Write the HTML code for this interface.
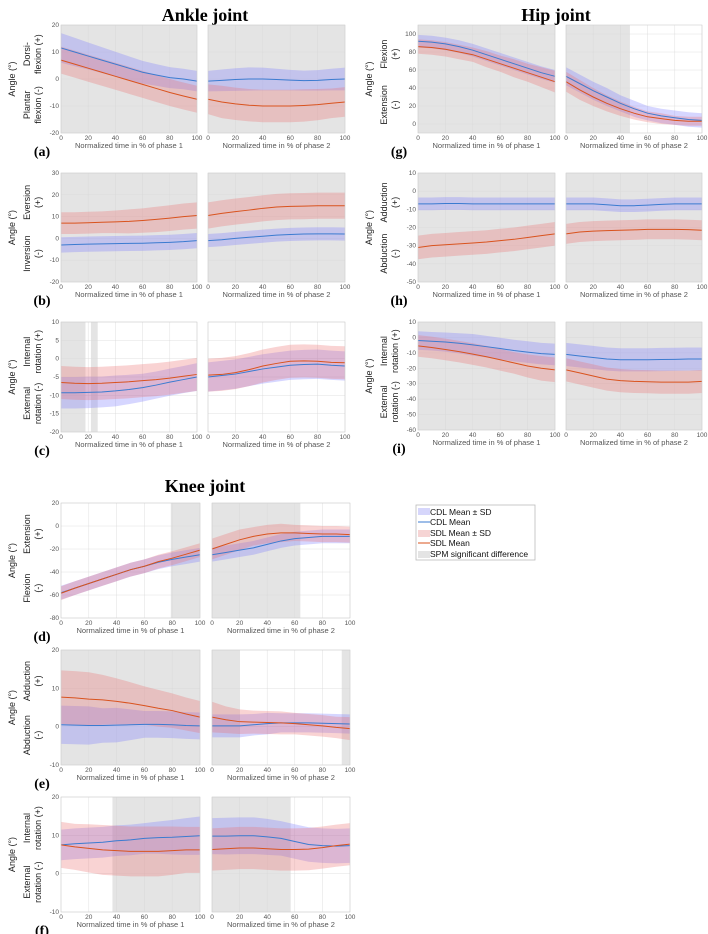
<!DOCTYPE html>
<html><head><meta charset="utf-8">
<style>
html,body{margin:0;padding:0;background:#fff;}
svg{display:block;font-family:"Liberation Sans",sans-serif;}
.t{font-family:"Liberation Serif",serif;font-weight:bold;}
</style></head>
<body>
<svg id="fig" width="708" height="934" viewBox="0 0 708 934">
<text class="t" x="205" y="21" font-size="18" text-anchor="middle">Ankle joint</text>
<text class="t" x="556" y="21" font-size="18" text-anchor="middle">Hip joint</text>
<text class="t" x="205" y="492" font-size="18" text-anchor="middle">Knee joint</text>
<g>
<rect x="416" y="505" width="119" height="55" fill="#fff" stroke="#bbb" stroke-width="0.8"/>
<rect x="418" y="508" width="12" height="7" fill="#d6d6fb"/>
<text x="430" y="515" font-size="8.5" fill="#111">CDL Mean ± SD</text>
<line x1="418" y1="522" x2="430" y2="522" stroke="#3b7bd0" stroke-width="1"/>
<text x="430" y="525" font-size="8.5" fill="#111">CDL Mean</text>
<rect x="418" y="530" width="12" height="7" fill="#f6d4d4"/>
<text x="430" y="536" font-size="8.5" fill="#111">SDL Mean ± SD</text>
<line x1="418" y1="543" x2="430" y2="543" stroke="#d9531e" stroke-width="1"/>
<text x="430" y="546" font-size="8.5" fill="#111">SDL Mean</text>
<rect x="418" y="551" width="12" height="7" fill="#e4e4e4"/>
<text x="430" y="557" font-size="8.5" fill="#111">SPM significant difference</text>
</g>
</svg>
<script>
// x samples (% of phase)
const xs = [0,10,20,30,40,50,60,70,80,90,100];
// ---- Ankle (a) ----
const aL_cdl = [11.5,10,8.5,7,5.5,4,2.5,1.5,0.5,0,-0.8];
const aL_cdlSd = [5.5,5.3,5,4.8,4.6,4.4,4.2,4,3.9,3.8,3.8];
const aL_sdl = [7,5.5,4,2.5,1,-0.5,-2,-3.5,-5,-6.3,-7.5];
const aL_sdlSd = [5,5,5,5,5,5,5,5,5,5,5];
const aR_cdl = [-0.8,-0.5,-0.2,0,0,-0.2,-0.4,-0.6,-0.5,-0.2,0];
const aR_cdlSd = [3.8,4,4.2,4.3,4.2,4,3.8,3.7,3.8,4,4.2];
const aR_sdl = [-7.5,-8.5,-9.2,-9.7,-10,-10,-10,-9.8,-9.5,-9,-8.5];
const aR_sdlSd = [5.5,6,6,6,6,6,6,6,5.8,5.5,5.5];
// ---- Ankle (b) ----
const bL_cdl = [-3,-2.8,-2.6,-2.5,-2.4,-2.3,-2.2,-2,-1.8,-1.5,-1];
const bL_cdlSd = [3.5,3.5,3.5,3.5,3.5,3.5,3.5,3.5,3.5,3.5,3.5];
const bL_sdl = [7,7,7.2,7.4,7.6,7.8,8.2,8.7,9.3,10,10.5];
const bL_sdlSd = [5,5,5,5,5.2,5.5,5.6,5.8,5.9,6,6];
const bR_cdl = [-1,-0.6,0,0.5,1,1.5,1.8,2,2.1,2.1,2];
const bR_cdlSd = [3,3,3,3,3,3,3,3,3,3,3];
const bR_sdl = [10.5,11.5,12.3,13,13.8,14.4,14.7,14.8,15,15,15];
const bR_sdlSd = [6,6,6,6,6,6,6,6,6,6,6];
// ---- Ankle (c) ----
const cL_cdl = [-9.3,-9.3,-9.2,-9.1,-8.8,-8.4,-7.9,-7.2,-6.4,-5.7,-5];
const cL_cdlSd = [4.3,4.3,4.3,4.2,4.2,4,3.8,3.7,3.7,3.7,3.8];
const cL_sdl = [-6.5,-6.7,-6.8,-6.7,-6.5,-6.3,-6,-5.7,-5.3,-4.8,-4.3];
const cL_sdlSd = [4.5,4.5,4.5,4.5,4.5,4.5,4.5,4.5,4.5,4.5,4.5];
const cR_cdl = [-5,-4.6,-4.2,-3.5,-2.8,-2.3,-1.8,-1.6,-1.5,-1.8,-2];
const cR_cdlSd = [4,4,4,4,4,4,4,4,4,4,4];
const cR_sdl = [-4.5,-4.3,-3.8,-3,-2,-1.3,-0.7,-0.6,-0.7,-1,-1.1];
const cR_sdlSd = [4.5,4.5,4.5,4.5,4.5,4.5,4.5,4.5,4.5,4.5,4.5];
// ---- Hip (g) ----
const gL_cdl = [92,91,89,86,82,77,72,67,62,57,53];
const gL_cdlSd = [7,7,7,7,7,7,7,7,7,7,7];
const gL_sdl = [86,85,83,80,77,72,67,62,57,52,47];
const gL_sdlSd = [8,8,8,8,8,9,9,10,10,11,12];
const gR_cdl = [53,45,37,30,23,17,12,9,7,5,4];
const gR_cdlSd = [10,10,10,10,9,9,8,8,8,8,8];
const gR_sdl = [47,38,30,23,17,12,8,6,4,3,3];
const gR_sdlSd = [11,11,10,9,8,7,6,6,5,5,5];
// ---- Hip (h) ----
const hL_cdl = [-7,-7,-6.8,-6.8,-7,-7,-7,-7,-7,-7,-7];
const hL_cdlSd = [3.5,3.5,3.5,3.5,3.5,3.5,3.5,3.5,3.5,3.5,3.5];
const hL_sdl = [-31,-30,-29.5,-29,-28.5,-28,-27.2,-26.5,-25.5,-24.5,-23.5];
const hL_sdlSd = [6.5,6.5,6.5,6.5,6.5,6.5,6.5,6.5,6.5,6.5,6.5];
const hR_cdl = [-7,-7,-7,-7.5,-8,-8,-7.7,-7.3,-7,-7,-7];
const hR_cdlSd = [3.5,3.5,3.5,3.5,3.5,3.5,3.5,3.5,3.5,3.5,3.5];
const hR_sdl = [-23.5,-22.5,-22,-21.7,-21.5,-21.3,-21,-21,-21,-21.2,-21.5];
const hR_sdlSd = [5.5,5.5,5.5,5.5,5.5,5.5,5.5,5.5,5.5,5.5,5.5];
// ---- Hip (i) ----
const iL_cdl = [-2,-2.5,-3,-3.8,-4.8,-6,-7.2,-8.5,-9.5,-10.5,-11];
const iL_cdlSd = [6,6,6.2,6.5,7,7,7,7,7,7,7];
const iL_sdl = [-5.5,-6.5,-7.8,-9.2,-10.8,-12.5,-14.5,-16.5,-18.5,-20,-21];
const iL_sdlSd = [7,7,7,7,7,7,7,7,7.5,8,8];
const iR_cdl = [-11,-12,-13,-14,-14.5,-14.5,-14.5,-14.3,-14.2,-14,-14];
const iR_cdlSd = [7.5,7.5,7.5,7.5,7.5,7.5,7.5,7.5,7.5,7.5,7.5];
const iR_sdl = [-21,-23,-25,-27,-28,-28.5,-28.7,-29,-29,-29,-28.5];
const iR_sdlSd = [7.5,7.5,7.5,7.5,7.5,7.5,7.5,7.5,7.5,7.5,7.5];
// ---- Knee (d) ----
const dL_cdl = [-58,-54,-50,-46,-42,-38,-35,-31.5,-29,-27,-25];
const dL_cdlSd = [6,6,6,6,6,6,6,6,6,6,6];
const dL_sdl = [-58.5,-54,-50,-46,-42,-38,-35,-31,-28,-24.5,-21];
const dL_sdlSd = [6,6,6,6,6,6,6,6,6,6,6];
const dR_cdl = [-25,-23,-21,-19,-16,-13,-11,-10,-9,-9,-9];
const dR_cdlSd = [6,6,6,6,6,6,6,6,6,6,6];
const dR_sdl = [-20,-16,-12,-9,-7,-6,-6,-6.5,-7,-7,-7.5];
const dR_sdlSd = [9,9,9,8,8,8,7,7,7,7,7];
// ---- Knee (e) ----
const eL_cdl = [0.5,0.4,0.3,0.3,0.4,0.5,0.6,0.6,0.5,0.3,0.2];
const eL_cdlSd = [5,5,5,4.5,4.5,4,3.5,3.5,3.5,3.5,3.5];
const eL_sdl = [7.7,7.5,7.2,7,6.6,6.1,5.5,4.8,4.2,3.3,2.5];
const eL_sdlSd = [7,7,7,6.5,6,5.5,5,4.8,4.5,4.3,4.2];
const eR_cdl = [0.2,0.2,0.2,0.5,0.8,1,1,1,0.9,0.8,0.7];
const eR_cdlSd = [3,3,3,2.8,2.8,2.5,2.5,2.5,2.5,2.5,2.5];
const eR_sdl = [2.5,1.8,1.3,1.2,1.1,1,0.8,0.5,0.2,-0.2,-0.5];
const eR_sdlSd = [4,3.5,3.2,3,3,3,2.8,2.8,2.8,2.8,3];
// ---- Knee (f) ----
const fL_cdl = [7.5,7.8,8,8.2,8.6,8.8,9.2,9.4,9.5,9.7,9.9];
const fL_cdlSd = [4,4,4,4,4,4,4,4.2,4.5,4.8,5];
const fL_sdl = [7.5,7,6.6,6.2,6,5.8,5.8,5.8,6,6.2,6.2];
const fL_sdlSd = [6,6,6.3,6.5,6.5,6.5,6.5,6.5,6.3,6,6];
const fR_cdl = [9.8,9.8,9.9,9.9,9.6,9.2,8.4,7.6,7.3,7.2,7.3];
const fR_cdlSd = [4.7,4.8,4.8,4.8,4.7,4.5,4.5,4.5,4.5,4.5,4.5];
const fR_sdl = [6.3,6.5,6.7,6.7,6.5,6.3,6.3,6.4,6.8,7.3,7.7];
const fR_sdlSd = [5.5,5.5,5.5,5.5,5.5,5.5,5.5,5.5,5.5,5.5,5.5];
// SPM significant regions [start%, end%]
const spm_aL=[[0,100]], spm_aR=[[0,100]], spm_bL=[[0,100]], spm_bR=[[0,100]];
const spm_cL=[[0,18],[22,27]], spm_cR=[];
const spm_gL=[[0,100]], spm_gR=[[0,47]], spm_hL=[[0,100]], spm_hR=[[0,100]];
const spm_iL=[[0,100]], spm_iR=[[0,100]];
const spm_dL=[[79,100]], spm_dR=[[0,64]], spm_eL=[[0,100]], spm_eR=[[0,20],[94,100]];
const spm_fL=[[37,100]], spm_fR=[[0,57]];
// y ranges and ticks
const yr_a=[-20,20], yt_a=[-20,-10,0,10,20];
const yr_b=[-20,30], yt_b=[-20,-10,0,10,20,30];
const yr_c=[-20,10], yt_c=[-20,-15,-10,-5,0,5,10];
const yr_g=[-10,110], yt_g=[0,20,40,60,80,100];
const yr_h=[-50,10], yt_h=[-50,-40,-30,-20,-10,0,10];
const yr_i=[-60,10], yt_i=[-60,-50,-40,-30,-20,-10,0,10];
const yr_d=[-80,20], yt_d=[-80,-60,-40,-20,0,20];
const yr_e=[-10,20], yt_e=[-10,0,10,20];
const yr_f=[-10,20], yt_f=[-10,0,10,20];
const xt = [0,20,40,60,80,100];

const NS="http://www.w3.org/2000/svg";
const svg=document.getElementById('fig');
function mk(tag,attrs,parent){const e=document.createElementNS(NS,tag);for(const k in attrs)e.setAttribute(k,attrs[k]);(parent||svg).appendChild(e);return e;}

function drawAxes(id,side,box,yr,yt,spm,cdl,cdlSd,sdl,sdlSd,phase){
  const g=mk('g',{});
  
  
  const [x0,x1,y0,y1]=box;
  const X=v=>x0+(v/100)*(x1-x0);
  const Y=v=>y1-(v-yr[0])/(yr[1]-yr[0])*(y1-y0);
  mk('rect',{x:x0,y:y0,width:x1-x0,height:y1-y0,fill:'#fff'},g);
  spm.forEach(r=>{
    const s=mk('rect',{x:X(r[0]),y:y0,width:X(r[1])-X(r[0]),height:y1-y0,fill:'#e4e4e4'},g);
    
    
  });
  xt.forEach(v=>mk('line',{x1:X(v),x2:X(v),y1:y0,y2:y1,stroke:'#d8d8d8','stroke-width':0.4},g));
  yt.forEach(v=>mk('line',{x1:x0,x2:x1,y1:Y(v),y2:Y(v),stroke:'#d8d8d8','stroke-width':0.4},g));
  function band(m,s,fill,name){
    let d='M'+xs.map((x,i)=>X(x)+','+Y(m[i]+s[i])).join(' L');
    d+=' L'+xs.slice().reverse().map((x,j)=>{const i=xs.length-1-j;return X(x)+','+Y(m[i]-s[i]);}).join(' L')+'Z';
    const p=mk('path',{d:d,fill:fill},g);
    
    
  }
  function line(m,col,name){
    const p=mk('path',{d:'M'+xs.map((x,i)=>X(x)+','+Y(m[i])).join(' L'),fill:'none',stroke:col,'stroke-width':1},g);
    
    
  }
  band(cdl,cdlSd,'rgba(120,120,255,0.3)','cdl-sd-band');
  band(sdl,sdlSd,'rgba(235,110,110,0.3)','sdl-sd-band');
  line(cdl,'#3b7bd0','cdl-mean-line');
  line(sdl,'#d9531e','sdl-mean-line');
  mk('rect',{x:x0,y:y0,width:x1-x0,height:y1-y0,fill:'none',stroke:'#cfcfcf','stroke-width':0.6},g);
  xt.forEach(v=>{const t=mk('text',{x:X(v),y:y1+7,'font-size':6.5,fill:'#555','text-anchor':'middle'},g);t.textContent=v;});
  if(side==='left') yt.forEach(v=>{const t=mk('text',{x:x0-2,y:Y(v)+2,'font-size':6.5,fill:'#555','text-anchor':'end'},g);t.textContent=v;});
  const xl=mk('text',{x:(x0+x1)/2,y:y1+15,'font-size':7.5,fill:'#555','text-anchor':'middle'},g);
  xl.textContent='Normalized time in % of phase '+phase;
  
  
}
function vtext(x,y,txt,size,name){
  const t=mk('text',{x:0,y:0,'font-size':size,fill:'#222','text-anchor':'middle',transform:'translate('+x+','+y+') rotate(-90)'});
  t.textContent=txt;
  
  
}
function panel(id,L,R,yr,yt,dat,up,down){
  drawAxes(id,'left',L,yr,yt,dat[8],dat[0],dat[1],dat[2],dat[3],1);
  drawAxes(id,'right',R,yr,yt,dat[9],dat[4],dat[5],dat[6],dat[7],2);
  const x0=L[0],y0=L[2],y1=L[3],h=y1-y0;
  vtext(x0-46,(y0+y1)/2,'Angle (°)',9,'y-axis-title');
  vtext(x0-31,y0+h*0.27,up[0],9,'positive-direction-label');
  vtext(x0-20,y0+h*0.27,up[1],9,'positive-direction-label');
  vtext(x0-31,y0+h*0.74,down[0],9,'negative-direction-label');
  vtext(x0-20,y0+h*0.74,down[1],9,'negative-direction-label');
  const t=mk('text',{x:x0-19,y:y1+23,'font-size':14,'text-anchor':'middle','class':'t'});
  t.textContent='('+id+')';
  
  
}
const AL=[61,197],AR=[208,345],HL=[418,555],HR=[566,702],KL=[61,200],KR=[212,350];
panel('a',[AL[0],AL[1],25,133],[AR[0],AR[1],25,133],yr_a,yt_a,[aL_cdl,aL_cdlSd,aL_sdl,aL_sdlSd,aR_cdl,aR_cdlSd,aR_sdl,aR_sdlSd,spm_aL,spm_aR],['Dorsi-','flexion (+)'],['Plantar','flexion (-)']);
panel('b',[AL[0],AL[1],173,282],[AR[0],AR[1],173,282],yr_b,yt_b,[bL_cdl,bL_cdlSd,bL_sdl,bL_sdlSd,bR_cdl,bR_cdlSd,bR_sdl,bR_sdlSd,spm_bL,spm_bR],['Eversion','(+)'],['Inversion','(-)']);
panel('c',[AL[0],AL[1],322,432],[AR[0],AR[1],322,432],yr_c,yt_c,[cL_cdl,cL_cdlSd,cL_sdl,cL_sdlSd,cR_cdl,cR_cdlSd,cR_sdl,cR_sdlSd,spm_cL,spm_cR],['Internal','rotation (+)'],['External','rotation (-)']);
panel('g',[HL[0],HL[1],25,133],[HR[0],HR[1],25,133],yr_g,yt_g,[gL_cdl,gL_cdlSd,gL_sdl,gL_sdlSd,gR_cdl,gR_cdlSd,gR_sdl,gR_sdlSd,spm_gL,spm_gR],['Flexion','(+)'],['Extension','(-)']);
panel('h',[HL[0],HL[1],173,282],[HR[0],HR[1],173,282],yr_h,yt_h,[hL_cdl,hL_cdlSd,hL_sdl,hL_sdlSd,hR_cdl,hR_cdlSd,hR_sdl,hR_sdlSd,spm_hL,spm_hR],['Adduction','(+)'],['Abduction','(-)']);
panel('i',[HL[0],HL[1],322,430],[HR[0],HR[1],322,430],yr_i,yt_i,[iL_cdl,iL_cdlSd,iL_sdl,iL_sdlSd,iR_cdl,iR_cdlSd,iR_sdl,iR_sdlSd,spm_iL,spm_iR],['Internal','rotation (+)'],['External','rotation (-)']);
panel('d',[KL[0],KL[1],503,618],[KR[0],KR[1],503,618],yr_d,yt_d,[dL_cdl,dL_cdlSd,dL_sdl,dL_sdlSd,dR_cdl,dR_cdlSd,dR_sdl,dR_sdlSd,spm_dL,spm_dR],['Extension','(+)'],['Flexion','(-)']);
panel('e',[KL[0],KL[1],650,765],[KR[0],KR[1],650,765],yr_e,yt_e,[eL_cdl,eL_cdlSd,eL_sdl,eL_sdlSd,eR_cdl,eR_cdlSd,eR_sdl,eR_sdlSd,spm_eL,spm_eR],['Adduction','(+)'],['Abduction','(-)']);
panel('f',[KL[0],KL[1],797,912],[KR[0],KR[1],797,912],yr_f,yt_f,[fL_cdl,fL_cdlSd,fL_sdl,fL_sdlSd,fR_cdl,fR_cdlSd,fR_sdl,fR_sdlSd,spm_fL,spm_fR],['Internal','rotation (+)'],['External','rotation (-)']);
</script>
</body></html>
